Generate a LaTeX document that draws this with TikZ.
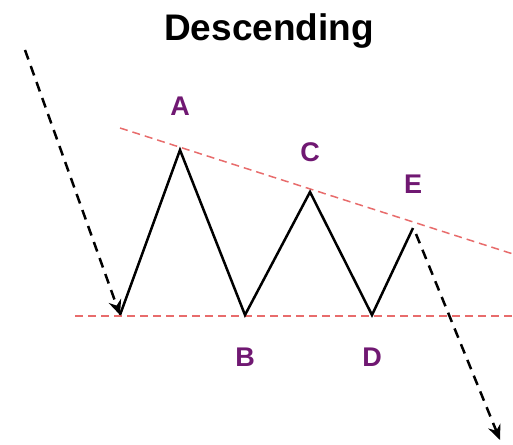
\documentclass[tikz,border=0pt]{standalone}
\usepackage{fontspec}
\setmainfont{Liberation Sans}
\usepackage{xcolor}
\usetikzlibrary{arrows.meta}
\definecolor{colLbl}{RGB}{112,24,114}
\definecolor{colTrend}{RGB}{232,108,108}

\begin{document}
\begin{tikzpicture}[>={Stealth[length=15pt, width=13pt, inset=5pt]}, x=1pt, y=1pt,
    trend/.style={colTrend, line width=1.5pt, dash pattern=on 8pt off 5pt},
    move/.style={->, black, line width=2.5pt, dash pattern=on 10pt off 7pt},
    ptlbl/.style={colLbl, font=\fontsize{27}{27}\selectfont\bfseries}]

\useasboundingbox (0,0) rectangle (513,444);

% Titre
\node[font=\fontsize{37}{37}\selectfont\bfseries] (title) at (269,413) {Descending};

% Points du motif
\coordinate (start) at (120,129);
\coordinate (A) at (180,294);
\coordinate (B) at (245,129);
\coordinate (C) at (310,252);
\coordinate (D) at (372,129);
\coordinate (E) at (413,216);
\coordinate (top) at (25,394);
\coordinate (exit) at (500,4);

% Lignes de tendance
\draw[trend] (120,316) -- (513,190);
\draw[trend] (75,128) -- (513,128);

% Tendance entrante / sortie
\draw[move] (top) -- (start);
\draw[move] ([shift={(3,-6)}]E) -- (exit);

% Zigzag
\draw[black, line width=2.5pt, line join=miter] (start) -- (A) -- (B) -- (C) -- (D) -- (E);

% Etiquettes
\foreach \p/\dy in {A/44, C/40, E/44} {
    \node[ptlbl] (lbl\p) at ([yshift=\dy]\p) {\p};
}
\foreach \p in {B, D} {
    \node[ptlbl] (lbl\p) at ([yshift=-42]\p) {\p};
}

\end{tikzpicture}
\end{document}
